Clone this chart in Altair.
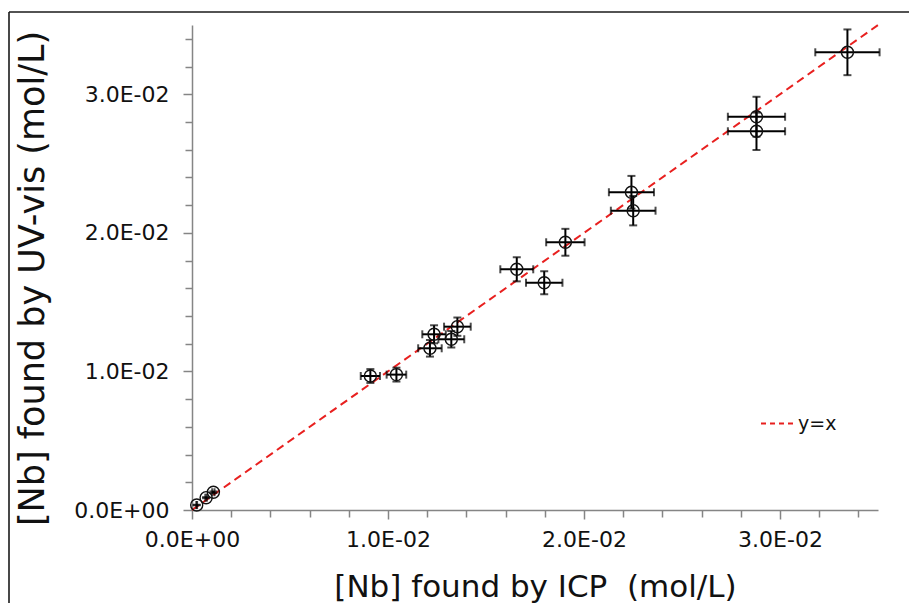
import altair as alt
import pandas as pd

# ---- data ----
icp = [0.00024, 0.00072, 0.00109, 0.0091, 0.01043, 0.01214, 0.01235, 0.01323,
       0.01354, 0.01657, 0.01797, 0.01905, 0.02242, 0.02251, 0.0288, 0.0288, 0.03344]
uv = [0.00036, 0.00089, 0.00128, 0.00967, 0.00977, 0.01167, 0.01268, 0.01232,
      0.01323, 0.01737, 0.0164, 0.01932, 0.02293, 0.0216, 0.02838, 0.02733, 0.03303]
icp_err = [0.00002, 0.00004, 0.00006, 0.00049, 0.0005, 0.0006, 0.0006, 0.00066,
           0.00068, 0.00084, 0.00093, 0.00098, 0.00115, 0.00114, 0.00146, 0.00146, 0.00164]
uv_err = [0.00002, 0.00004, 0.00006, 0.0005, 0.0005, 0.0006, 0.00065, 0.0006,
          0.00066, 0.00087, 0.00083, 0.00097, 0.00118, 0.00106, 0.00144, 0.00135, 0.00165]

line_x = [0.0, 0.035]
line_y = [0.0, 0.035]
line_label = "y=x"

major_ticks = [0.0, 0.01, 0.02, 0.03]
major_labels = ["0.0E+00", "1.0E-02", "2.0E-02", "3.0E-02"]
minor_ticks = [0.0, 0.002, 0.004, 0.006, 0.008, 0.01, 0.012, 0.014, 0.016, 0.018,
               0.02, 0.022, 0.024, 0.026, 0.028, 0.03, 0.032, 0.034]
domain = [0.0, 0.035]

x_title = "[Nb] found by ICP \u00a0(mol/L)"
y_title = "[Nb] found by UV-vis (mol/L)"

FONT = "DejaVu Sans"
AXIS_GREY = "#858585"

df = pd.DataFrame({
    "icp": icp, "uv": uv,
    "xlo": [a - e for a, e in zip(icp, icp_err)],
    "xhi": [a + e for a, e in zip(icp, icp_err)],
    "ylo": [a - e for a, e in zip(uv, uv_err)],
    "yhi": [a + e for a, e in zip(uv, uv_err)],
})
line_df = pd.DataFrame({"x": line_x, "y": line_y, "series": [line_label] * len(line_x)})

label_expr = "".join(
    f"datum.value == {v} ? '{t}' : " for v, t in zip(major_ticks, major_labels)
) + "''"
major_test = "indexof(" + str(major_ticks) + ", datum.value) >= 0"

common_axis = dict(
    values=minor_ticks,
    labelExpr=label_expr,
    labelFont=FONT,
    labelFontSize=22,
    labelColor="#111111",
    labelOverlap=False,
    labelFlush=False,
    grid=False,
    domainColor=AXIS_GREY,
    domainWidth=1.5,
    tickColor=AXIS_GREY,
    tickWidth=1.5,
    tickSize={"condition": {"test": major_test, "value": 9}, "value": 7},
    titleFont=FONT,
    titleFontWeight="normal",
    titleColor="#111111",
)

xscale = alt.Scale(domain=domain, nice=False, zero=True)
yscale = alt.Scale(domain=domain, nice=False, zero=True)

x_axis = alt.Axis(
    title=x_title, titleFontSize=31, titleBaseline="alphabetic",
    titleY=86, labelPadding=27, labelBaseline="alphabetic", **common_axis
)
y_axis = alt.Axis(
    title=y_title, titleFontSize=35, titleBaseline="alphabetic", titleAngle=-90,
    titleX=-149, titleY=253, titleAlign="center", labelPadding=14, **common_axis
)


def X(field):
    return alt.X(field, scale=xscale, axis=x_axis, title=x_title)


def Y(field):
    return alt.Y(field, scale=yscale, axis=y_axis, title=y_title)


line = alt.Chart(line_df).mark_line(strokeDash=[8, 5], strokeWidth=2).encode(
    x=X("x:Q"),
    y=Y("y:Q"),
    color=alt.Color(
        "series:N",
        scale=alt.Scale(domain=[line_label], range=["#e8201f"]),
        legend=alt.Legend(
            title=None, orient="none", legendX=568, legendY=381, padding=0,
            symbolType="stroke", symbolSize=1089, symbolDash=[5, 4],
            symbolStrokeWidth=2, labelFont=FONT, labelFontSize=19,
            labelColor="#111111", labelOffset=3,
        ),
    ),
)

tick_style = {"size": 8, "thickness": 2, "color": "black"}
xerr = alt.Chart(df).mark_errorbar(ticks=tick_style, color="black", thickness=2).encode(
    x=X("xlo:Q"), x2="xhi:Q", y=Y("uv:Q")
)
yerr = alt.Chart(df).mark_errorbar(ticks=tick_style, color="black", thickness=2).encode(
    y=Y("ylo:Q"), y2="yhi:Q", x=X("icp:Q")
)
pts = alt.Chart(df).mark_point(
    shape="circle", filled=False, size=145, color="#111111", strokeWidth=1.4, opacity=1
).encode(x=X("icp:Q"), y=Y("uv:Q"))

frame_df = pd.DataFrame({"a": [0]})
frame_left = alt.Chart(frame_df).mark_rule(color="#1a1a1a", strokeWidth=1.6).encode(
    x=alt.value(-183), y=alt.value(-13), y2=alt.value(700)
)
frame_top = alt.Chart(frame_df).mark_rule(color="#1a1a1a", strokeWidth=1.6).encode(
    x=alt.value(-183), x2=alt.value(900), y=alt.value(-13)
)

chart = alt.layer(line, xerr, yerr, pts, frame_left, frame_top).properties(
    width=686, height=485,
    padding={"left": 184, "top": 17, "right": 31, "bottom": 93},
    autosize=alt.AutoSizeParams(type="none"),
).configure_view(stroke=None)

chart.save("out.html", embed_options={"renderer": "svg", "actions": False})
